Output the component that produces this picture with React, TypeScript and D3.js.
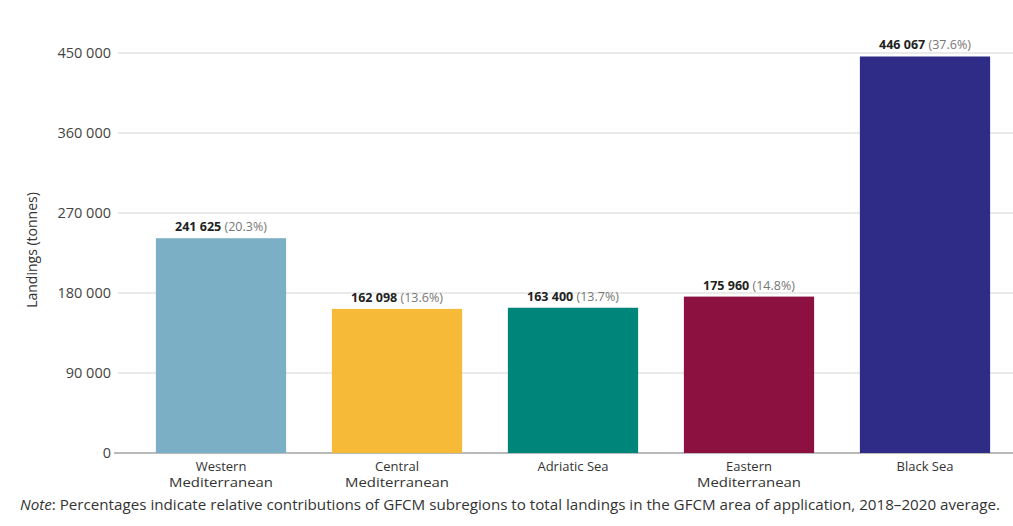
import React from "react";
import * as d3 from "d3";

const categories = ["Western Mediterranean", "Central Mediterranean", "Adriatic Sea", "Eastern Mediterranean", "Black Sea"];
const categoryLines = [["Western", "Mediterranean"], ["Central", "Mediterranean"], ["Adriatic Sea"], ["Eastern", "Mediterranean"], ["Black Sea"]];
const values = [241625, 162098, 163400, 175960, 446067];
const shares = ["20.3%", "13.6%", "13.7%", "14.8%", "37.6%"];
const colors = ["#7BAFC5", "#F7BA38", "#00857A", "#8C1141", "#2E2C87"];
const yTicks = [0, 90000, 180000, 270000, 360000, 450000];

const W = 1013, H = 526;
const FONT = "'Open Sans', 'Noto Sans', sans-serif";

export default function App() {
  const x = d3.scaleBand<string>().domain(categories).range([133, 1013]).paddingInner(0.26).paddingOuter(0.13);
  const y = d3.scaleLinear().domain([0, 450000]).range([453, 53]);
  const fmt = (v: number) => d3.format(",")(v).replace(/,/g, " ");
  return (
    <svg width={W} height={H} style={{ position: "absolute", left: 0, top: 0, background: "#fff" }} fontFamily={FONT}>
      {yTicks.map((t) => (
        <g key={t}>
          <line x1={t === 0 ? 114 : 118} x2={1013} y1={y(t)} y2={y(t)} stroke={t === 0 ? "#777" : "#e3e3e3"} strokeWidth={t === 0 ? 1.2 : 1.3} />
          <text x={111} y={y(t)} dy="0.35em" textAnchor="end" fontSize={14.5} fill="#444">{fmt(t)}</text>
        </g>
      ))}
      <text transform={`translate(37,${250}) rotate(-90)`} textAnchor="middle" fontSize={14} fill="#333">Landings (tonnes)</text>
      {categories.map((c, i) => {
        const bx = x(c)!;
        const cx = bx + x.bandwidth() / 2;
        return (
          <g key={c}>
            <rect x={bx} y={y(values[i])} width={x.bandwidth()} height={y(0) - y(values[i])} fill={colors[i]} />
            <text x={cx} y={y(values[i]) - 7} textAnchor="middle" fontSize={12.5}>
              <tspan fontWeight="bold" fill="#222">{fmt(values[i])}</tspan>
              <tspan fill="#777">{" (" + shares[i] + ")"}</tspan>
            </text>
            {categoryLines[i].map((l, j) => (
              <text key={j} x={cx} y={471 + j * 16} textAnchor="middle" fontSize={13} fill="#333"
                textLength={l === "Mediterranean" ? 104 : undefined} lengthAdjust="spacingAndGlyphs">{l}</text>
            ))}
          </g>
        );
      })}
      <text x={20} y={510} fontSize={14} fill="#333" textLength={980} lengthAdjust="spacingAndGlyphs">
        <tspan fontStyle="italic">Note</tspan>
        <tspan>: Percentages indicate relative contributions of GFCM subregions to total landings in the GFCM area of application, 2018–2020 average.</tspan>
      </text>
    </svg>
  );
}
